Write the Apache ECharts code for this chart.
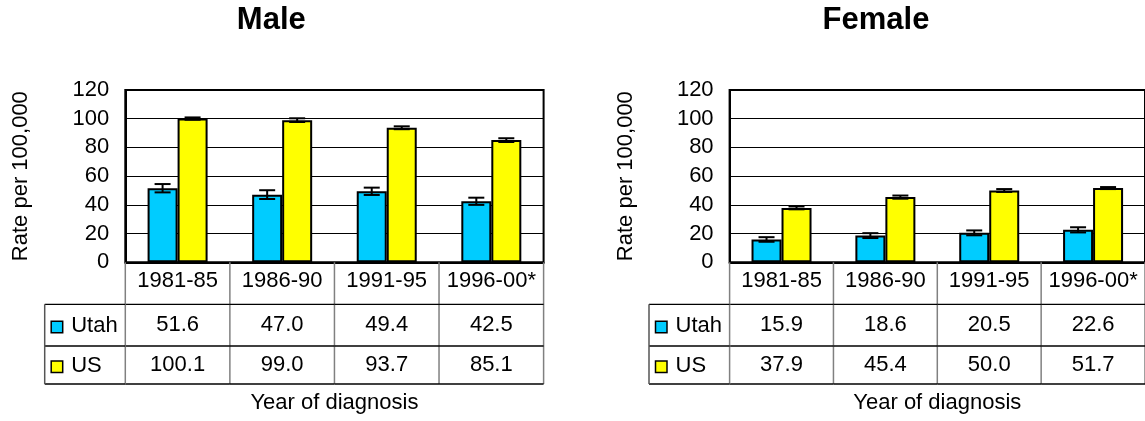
<!DOCTYPE html>
<html><head><meta charset="utf-8">
<script src="https://cdn.jsdelivr.net/npm/echarts@6/dist/echarts.min.js"></script>
<style>html,body{margin:0;padding:0;background:#fff}#c{width:1145px;height:421px}</style>
</head><body><div id="c"></div>
<script>
// ---- data ----
const categories = ['1981-85', '1986-90', '1991-95', '1996-00*'];
const seriesNames = ['Utah', 'US'];
const panelTitles = ['Male', 'Female'];
const yTicks = [0, 20, 40, 60, 80, 100, 120];

const maleUtah = [51.6, 47.0, 49.4, 42.5];
const maleUtahLow = [48.7, 44.1, 46.9, 40.0];
const maleUtahHigh = [54.5, 50.2, 52.0, 45.0];
const maleUS = [100.1, 99.0, 93.7, 85.1];
const maleUSLow = [99.3, 97.7, 92.7, 83.8];
const maleUSHigh = [100.9, 100.3, 94.7, 86.4];

const femaleUtah = [15.9, 18.6, 20.5, 22.6];
const femaleUtahLow = [14.3, 16.9, 18.8, 20.8];
const femaleUtahHigh = [17.5, 20.3, 22.2, 24.4];
const femaleUS = [37.9, 45.4, 50.0, 51.7];
const femaleUSLow = [36.9, 44.3, 49.0, 51.0];
const femaleUSHigh = [38.9, 46.5, 51.0, 52.4];

// ---- style / layout ----
const FONT = "'Liberation Sans', Arial, sans-serif";
const FS = 22;
const COLORS = ['#00CCFF', '#FFFF00'];
const BAR_W = 30;
const CAP = 8;
const GRID_TOP = 90, GRID_H = 172.3;
const GRIDS = [{left: 125.3, width: 418.3}, {left: 729.6, width: 418}];
const TITLE_X = [271.3, 876];
const ROW_B = [42, 83.7, 121.7];      // table row bottoms relative to axis
const ROW_C = [18.6, 62.4, 102.2];    // text centres relative to axis
const LABEL_COL = 80.6;

const panels = [
  {vals: [maleUtah, maleUS], low: [maleUtahLow, maleUSLow], high: [maleUtahHigh, maleUSHigh]},
  {vals: [femaleUtah, femaleUS], low: [femaleUtahLow, femaleUSLow], high: [femaleUtahHigh, femaleUSHigh]}
];

function txt(text, x, y, align, size, weight) {
  return {type: 'text', style: {text: text, x: x, y: y, align: align, verticalAlign: 'middle',
    textAlign: align, textVerticalAlign: 'middle', font: (weight || 'normal') + ' ' + (size || FS) + 'px ' + FONT, fill: '#000'}};
}
function ln(x1, y1, x2, y2, color, w) {
  return {type: 'line', shape: {x1: x1, y1: y1, x2: x2, y2: y2}, style: {stroke: color, lineWidth: w || 1}};
}

const grid = [], xAxis = [], yAxis = [], series = [];
panels.forEach((p, pi) => {
  grid.push({left: GRIDS[pi].left, top: GRID_TOP, width: GRIDS[pi].width, height: GRID_H,
    show: true, borderColor: '#000', borderWidth: 2, containLabel: false});
  xAxis.push({type: 'category', gridIndex: pi, data: categories,
    axisLine: {lineStyle: {color: '#000', width: 2}}, axisTick: {show: false}, axisLabel: {show: false},
    name: 'Year of diagnosis', nameLocation: 'middle', nameGap: 130,
    nameTextStyle: {fontFamily: FONT, fontSize: FS, color: '#000'}});
  yAxis.push({type: 'value', gridIndex: pi, min: yTicks[0], max: yTicks[yTicks.length - 1],
    interval: yTicks[1] - yTicks[0],
    axisLine: {show: true, lineStyle: {color: '#000', width: 2}}, axisTick: {show: false},
    axisLabel: {fontFamily: FONT, fontSize: FS, color: '#000', margin: 16},
    splitLine: {lineStyle: {color: '#000', width: 1}},
    name: 'Rate per 100,000', nameLocation: 'middle', nameGap: 93, nameRotate: 90,
    nameTextStyle: {fontFamily: FONT, fontSize: FS, color: '#000'}});
  seriesNames.forEach((sn, si) => {
    series.push({type: 'bar', name: sn, xAxisIndex: pi, yAxisIndex: pi, data: p.vals[si],
      barWidth: BAR_W, barGap: '0%',
      itemStyle: {color: COLORS[si], borderColor: '#000', borderWidth: 2}});
  });
  seriesNames.forEach((sn, si) => {
    const off = (si === 0 ? -1 : 1) * BAR_W / 2;
    series.push({type: 'custom', xAxisIndex: pi, yAxisIndex: pi, z: 5,
      data: categories.map((c, i) => [i, p.low[si][i], p.high[si][i]]),
      encode: {x: 0, y: [1, 2]},
      renderItem: function (params, api) {
        const i = api.value(0);
        const a = api.coord([i, api.value(2)]);
        const b = api.coord([i, api.value(1)]);
        const x = a[0] + off;
        return {type: 'group', children: [
          ln(x, a[1], x, b[1], '#000', 2),
          ln(x - CAP, a[1], x + CAP, a[1], '#000', 2),
          ln(x - CAP, b[1], x + CAP, b[1], '#000', 2)
        ]};
      }});
  });
  // data table under the axis
  series.push({type: 'custom', xAxisIndex: pi, yAxisIndex: pi, clip: false, z: 4, silent: true,
    data: categories.map((c, i) => [i, 0]),
    encode: {x: 0, y: 1},
    renderItem: function (params, api) {
      const i = api.value(0);
      const c = api.coord([i, 0]);
      const w = api.size([1, 0])[0];
      const x0 = c[0] - w / 2, x1 = c[0] + w / 2, y0 = c[1];
      const ch = [
        txt(categories[i], c[0], y0 + ROW_C[0], 'center'),
        txt(p.vals[0][i].toFixed(1), c[0], y0 + ROW_C[1], 'center'),
        txt(p.vals[1][i].toFixed(1), c[0], y0 + ROW_C[2], 'center'),
        ln(x1, y0, x1, y0 + ROW_B[2], '#808080', 1.5),
        ln(x0, y0 + ROW_B[0], x1, y0 + ROW_B[0], '#000', 1.3),
        ln(x0, y0 + ROW_B[1], x1, y0 + ROW_B[1], '#000', 1.3),
        ln(x0, y0 + ROW_B[2], x1, y0 + ROW_B[2], '#000', 1.3)
      ];
      if (i === 0) {
        const lx = x0 - LABEL_COL;
        ch.push(ln(x0, y0, x0, y0 + ROW_B[2], '#808080', 1.5));
        ch.push(ln(lx, y0 + ROW_B[0], x0, y0 + ROW_B[0], '#000', 1.3));
        ch.push(ln(lx, y0 + ROW_B[1], x0, y0 + ROW_B[1], '#000', 1.3));
        ch.push(ln(lx, y0 + ROW_B[2], x0, y0 + ROW_B[2], '#000', 1.3));
        ch.push(ln(lx, y0 + ROW_B[0], lx, y0 + ROW_B[2], '#555', 1.5));
        seriesNames.forEach((sn, si) => {
          const cy = y0 + ROW_C[si + 1];
          ch.push({type: 'rect', shape: {x: lx + 6.5, y: cy - 3.5, width: 11.5, height: 11.5},
            style: {fill: COLORS[si], stroke: '#000', lineWidth: 1.5}});
          ch.push(txt(sn, lx + 26.5, cy + 1, 'left'));
        });
      }
      return {type: 'group', children: ch};
    }});
});

const chart = echarts.init(document.getElementById('c'), null, {renderer: 'canvas'});
chart.setOption({animation: false, backgroundColor: '#fff', grid, xAxis, yAxis, series,
  graphic: panels.map((p, pi) => ({type: 'text', x: TITLE_X[pi], y: 20,
    style: {text: panelTitles[pi], font: 'bold 31px ' + FONT, fill: '#000',
      align: 'center', verticalAlign: 'middle', textAlign: 'center', textVerticalAlign: 'middle'}}))
});
</script></body></html>
